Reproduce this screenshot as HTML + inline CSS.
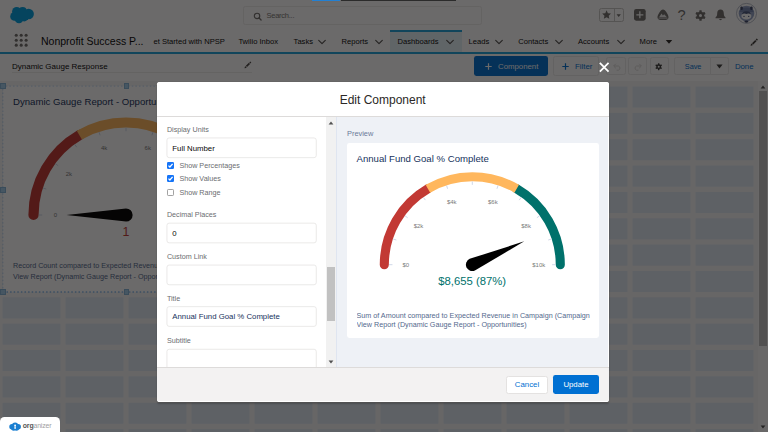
<!DOCTYPE html>
<html lang="en">
<head>
<meta charset="utf-8">
<title>Edit Component</title>
<style>
html,body{margin:0;padding:0}
body{width:768px;height:432px;overflow:hidden;position:relative;background:#fff;font-family:"Liberation Sans",sans-serif;color:#080707}
.abs{position:absolute}
svg{overflow:visible}
svg text{font-family:"Liberation Sans",sans-serif}
#page{position:absolute;left:0;top:0;width:768px;height:432px;overflow:hidden;background:#fff}
#backdrop{position:absolute;left:0;top:0;width:768px;height:432px;background:rgba(8,7,7,.6)}
.t{position:absolute;white-space:nowrap;line-height:1}
.nav{font-size:7.6px;color:#080707;top:38.4px}
.btn{position:absolute;box-sizing:border-box;border:.6px solid #ecebea;border-radius:2.4px;background:#fff}
.lbl{font-size:7.2px;color:#6b6d70;left:166.9px}
.inp{position:absolute;box-sizing:border-box;left:166.6px;width:150px;height:20.6px;border:.7px solid #eceae9;border-radius:2.4px;background:#fff}
.inp .t{left:5.2px;top:6.4px;font-size:7.8px}
.cb{position:absolute;box-sizing:border-box;left:167.2px;width:7px;height:7px;border-radius:1.2px}
.cb.on{background:#1574f7}
.cb.off{background:#fff;border:.6px solid #a2a2a2}
.hd{position:absolute;width:5.6px;height:5.6px;background:#a3cdea;border:.5px solid #86b4d8;box-sizing:border-box}
</style>
</head>
<body>
<div id="page">
  <!-- global header -->
  <svg class="abs" style="left:9px;top:5px" width="27" height="20" viewBox="0 0 27 20">
    <g fill="#00a1e0">
      <circle cx="7.7" cy="6.6" r="4.6"/><circle cx="13.6" cy="6.2" r="4.1"/><circle cx="19.6" cy="9" r="5.3"/>
      <circle cx="5.6" cy="11.4" r="4.4"/><circle cx="10" cy="13.8" r="4.4"/><circle cx="15.2" cy="12" r="4.4"/>
      <rect x="6" y="5" width="13" height="10"/>
    </g>
  </svg>
  <div class="abs" style="left:243.3px;top:5.7px;width:239px;height:19px;box-sizing:border-box;border:.6px solid #eeedec;border-radius:2.4px"></div>
  <svg class="abs" style="left:252.8px;top:11.8px" width="9.4" height="9.4" viewBox="0 0 10 10"><circle cx="4.3" cy="4.2" r="2.9" fill="none" stroke="#706e6b" stroke-width="1.2"/><path d="M6.5 6.4 L8.6 8.5" stroke="#706e6b" stroke-width="1.4" stroke-linecap="round"/></svg>
  <div class="t" style="left:266.5px;top:12px;font-size:7.5px;letter-spacing:-.25px;color:#7a7876">Search...</div>

  <!-- header right icons -->
  <div class="abs" style="left:599px;top:7.9px;width:24.8px;height:14.4px;box-sizing:border-box;border:.7px solid #c9c7c5;border-radius:2.4px"></div>
  <div class="abs" style="left:613.5px;top:7.9px;width:.7px;height:14.4px;background:#c9c7c5"></div>
  <svg class="abs" style="left:601.5px;top:10.4px" width="9.2" height="9.2" viewBox="0 0 10 10"><path d="M5 .4 L6.4 3.5 L9.8 3.9 L7.3 6.2 L8 9.6 L5 7.9 L2 9.6 L2.7 6.2 L.2 3.9 L3.6 3.5 Z" fill="#706e6b"/></svg>
  <svg class="abs" style="left:616.2px;top:14.2px" width="5.4" height="3.2" viewBox="0 0 6 4"><path d="M.3 .4 L5.7 .4 L3 3.7 Z" fill="#706e6b"/></svg>
  <svg class="abs" style="left:633.7px;top:9.2px" width="11.7" height="11.7" viewBox="0 0 12 12"><rect x="0" y="0" width="12" height="12" rx="2.2" fill="#706e6b"/><path d="M6 2.4 V9.6 M2.4 6 H9.6" stroke="#fff" stroke-width="1.3"/></svg>
  <svg class="abs" style="left:656.6px;top:9.4px" width="12" height="11.4" viewBox="0 0 12 11.4"><path d="M6 .5 C7.2 .5 8.4 1.6 9.6 3.4 C10.9 5.3 11.6 7.2 11.5 8.4 C11.4 9.9 10.2 10.9 8.6 10.9 L3.4 10.9 C1.8 10.9 .6 9.9 .5 8.4 C.4 7.2 1.1 5.3 2.4 3.4 C3.6 1.6 4.8 .5 6 .5 Z" fill="#706e6b"/><path d="M2 8.2 L4.6 4.6 L5.9 6.6 L7.2 5.2 L10 8.2 Z" fill="#fff" opacity=".85"/><path d="M1.4 9.2 H10.6" stroke="#fff" stroke-width=".7" opacity=".85"/></svg>
  <div class="t" style="left:677.6px;top:7.6px;font-size:14.6px;color:#706e6b">?</div>
  <svg class="abs" style="left:695.4px;top:9.5px" width="11" height="11" viewBox="-5.5 -5.5 11 11"><g fill="#706e6b"><circle r="3.7"/><rect x="-1.2" y="-5.2" width="2.4" height="10.4" rx=".5"/><rect x="-1.2" y="-5.2" width="2.4" height="10.4" rx=".5" transform="rotate(60)"/><rect x="-1.2" y="-5.2" width="2.4" height="10.4" rx=".5" transform="rotate(120)"/></g><circle r="1.5" fill="#fff"/></svg>
  <svg class="abs" style="left:714.6px;top:9.4px" width="11" height="12" viewBox="0 0 11 12"><path d="M5.5 .6 C3.4 .6 2.2 2.3 2.2 4.4 C2.2 6.6 1.5 7.6 .5 8.4 L.5 9.3 L10.5 9.3 L10.5 8.4 C9.5 7.6 8.8 6.6 8.8 4.4 C8.8 2.3 7.6 .6 5.5 .6 Z" fill="#706e6b"/><path d="M4 10.1 A1.6 1.6 0 0 0 7 10.1 Z" fill="#706e6b"/></svg>
  <svg class="abs" style="left:736px;top:3px" width="21" height="21" viewBox="0 0 21 21"><circle cx="10.5" cy="10.4" r="10" fill="#fff" stroke="#a3abbb" stroke-width=".8"/><circle cx="10.5" cy="10.6" r="7.8" fill="#95a4c6"/><path d="M3.6 9 Q3.4 4.6 10.5 4.4 Q17.6 4.6 17.4 9 Z" fill="#7384ad"/><rect x="4.4" y="3.4" width="2.4" height="3.6" rx="1.1" fill="#3c4866"/><rect x="14.2" y="3.4" width="2.4" height="3.6" rx="1.1" fill="#3c4866"/><ellipse cx="10.4" cy="12.9" rx="5" ry="3.6" fill="#fff"/><path d="M5.8 11.6 Q6.4 8.2 10.4 8.2 Q14.4 8.2 15 11.6 Q12.6 9.6 10.4 11 Q8.2 9.6 5.8 11.6 Z" fill="#4a587d"/><circle cx="8" cy="13.4" r=".7" fill="#4a587d"/><circle cx="12.7" cy="13.4" r=".7" fill="#4a587d"/><ellipse cx="10.4" cy="18.6" rx="2" ry="1.1" fill="#3c4866"/></svg>
  <!-- nav bar -->
  <div class="abs" style="left:390px;top:30px;width:72px;height:21.8px;background:#e4f2f8"></div>
  <div class="abs" style="left:390px;top:30px;width:72px;height:1.8px;background:#1ea4d9"></div>
  <div class="abs" style="left:0;top:52.1px;width:768px;height:2.3px;background:#1ea4d9"></div>
  <svg class="abs" style="left:14.2px;top:33.2px" width="14.4" height="14.4" viewBox="0 0 14 14" fill="#706e6b">
    <circle cx="2.2" cy="2.2" r="1.5"/><circle cx="7" cy="2.2" r="1.5"/><circle cx="11.8" cy="2.2" r="1.5"/>
    <circle cx="2.2" cy="7" r="1.5"/><circle cx="7" cy="7" r="1.5"/><circle cx="11.8" cy="7" r="1.5"/>
    <circle cx="2.2" cy="11.8" r="1.5"/><circle cx="7" cy="11.8" r="1.5"/><circle cx="11.8" cy="11.8" r="1.5"/>
  </svg>
  <div class="t" style="left:41px;top:35.8px;font-size:10.5px;color:#080707">Nonprofit Success P...</div>
  <div class="t nav" style="left:153.5px">et Started with NPSP</div>
  <div class="t nav" style="left:238.4px">Twilio Inbox</div>
  <div class="t nav" style="left:293.6px">Tasks</div>
  <div class="t nav" style="left:341.5px">Reports</div>
  <div class="t nav" style="left:397.5px">Dashboards</div>
  <div class="t nav" style="left:468.6px">Leads</div>
  <div class="t nav" style="left:518.3px">Contacts</div>
  <div class="t nav" style="left:578px">Accounts</div>
  <div class="t nav" style="left:639.6px">More</div>
  <svg class="abs" style="left:318px;top:39.4px" width="8" height="6" viewBox="0 0 8 6"><path d="M.7 1.3 L4 4.6 L7.3 1.3" fill="none" stroke="#514f4d" stroke-width="1.15" stroke-linecap="round" stroke-linejoin="round"/></svg><svg class="abs" style="left:375px;top:39.4px" width="8" height="6" viewBox="0 0 8 6"><path d="M.7 1.3 L4 4.6 L7.3 1.3" fill="none" stroke="#514f4d" stroke-width="1.15" stroke-linecap="round" stroke-linejoin="round"/></svg><svg class="abs" style="left:446px;top:39.4px" width="8" height="6" viewBox="0 0 8 6"><path d="M.7 1.3 L4 4.6 L7.3 1.3" fill="none" stroke="#514f4d" stroke-width="1.15" stroke-linecap="round" stroke-linejoin="round"/></svg><svg class="abs" style="left:495px;top:39.4px" width="8" height="6" viewBox="0 0 8 6"><path d="M.7 1.3 L4 4.6 L7.3 1.3" fill="none" stroke="#514f4d" stroke-width="1.15" stroke-linecap="round" stroke-linejoin="round"/></svg><svg class="abs" style="left:555px;top:39.4px" width="8" height="6" viewBox="0 0 8 6"><path d="M.7 1.3 L4 4.6 L7.3 1.3" fill="none" stroke="#514f4d" stroke-width="1.15" stroke-linecap="round" stroke-linejoin="round"/></svg><svg class="abs" style="left:617px;top:39.4px" width="8" height="6" viewBox="0 0 8 6"><path d="M.7 1.3 L4 4.6 L7.3 1.3" fill="none" stroke="#514f4d" stroke-width="1.15" stroke-linecap="round" stroke-linejoin="round"/></svg>
  <svg class="abs" style="left:665.4px;top:38.9px" width="8" height="6" viewBox="0 0 8 6"><path d="M0.8 1 L7.2 1 L4 4.8 Z" fill="#2b2826"/></svg>
  <svg class="abs" style="left:749.7px;top:37.8px" width="8.4" height="8.4" viewBox="0 0 8 8"><path d="M.5 7.5 L.9 5.9 L1.5 5.3 L2.7 6.5 L2.1 7.1 Z M1.9 4.9 L5 1.8 L6.2 3 L3.1 6.1 Z M5.4 1.4 L6.1 .7 Q6.4 .4 6.7 .7 L7.3 1.3 Q7.6 1.6 7.3 1.9 L6.6 2.6 Z" fill="#45423f"/></svg>

  <!-- dashboard header -->
  <div class="t" style="left:12px;top:62.9px;font-size:8px;color:#080707">Dynamic Gauge Response</div>
  <div class="abs" style="left:12px;top:72.4px;width:240px;height:.6px;background:#eeedec"></div>
  <svg class="abs" style="left:244px;top:61.2px" width="7.8" height="7.8" viewBox="0 0 8 8"><path d="M.5 7.5 L.9 5.9 L1.5 5.3 L2.7 6.5 L2.1 7.1 Z M1.9 4.9 L5 1.8 L6.2 3 L3.1 6.1 Z M5.4 1.4 L6.1 .7 Q6.4 .4 6.7 .7 L7.3 1.3 Q7.6 1.6 7.3 1.9 L6.6 2.6 Z" fill="#4d4a47"/></svg>

  <div class="abs" style="left:474px;top:56.4px;width:74.2px;height:19.3px;background:#0070d2;border-radius:2.4px"></div>
  <svg class="abs" style="left:484.5px;top:62.5px" width="7" height="7" viewBox="0 0 7 7"><path d="M3.5 .3 V6.7 M.3 3.5 H6.7" stroke="#fff" stroke-width="1.2"/></svg>
  <div class="t" style="left:498px;top:62.8px;font-size:7.8px;color:#fff">Component</div>
  <div class="btn" style="left:553.4px;top:56.4px;width:46px;height:19.3px"></div>
  <svg class="abs" style="left:561.5px;top:62.5px" width="7" height="7" viewBox="0 0 7 7"><path d="M3.5 .3 V6.7 M.3 3.5 H6.7" stroke="#0070d2" stroke-width="1.2"/></svg>
  <div class="t" style="left:575px;top:62.8px;font-size:7.8px;color:#0070d2">Filter</div>
  <div class="btn" style="left:606px;top:56.8px;width:19.5px;height:18.6px"></div>
  <div class="btn" style="left:628.3px;top:56.8px;width:18.5px;height:18.6px"></div>
  <div class="btn" style="left:649.8px;top:56.8px;width:19px;height:18.6px"></div>
  <svg class="abs" style="left:612.5px;top:62.5px" width="9" height="8" viewBox="0 0 9 8"><path d="M1 3 H5.4 A2.2 2.2 0 0 1 5.4 7.2 H3.6" fill="none" stroke="#dddbda" stroke-width="1"/><path d="M2.8 .8 L.6 3 L2.8 5.2" fill="none" stroke="#dddbda" stroke-width="1"/></svg>
  <svg class="abs" style="left:633px;top:62.5px" width="9" height="8" viewBox="0 0 9 8"><path d="M8 3 H3.6 A2.2 2.2 0 0 0 3.6 7.2 H5.4" fill="none" stroke="#dddbda" stroke-width="1"/><path d="M6.2 .8 L8.4 3 L6.2 5.2" fill="none" stroke="#dddbda" stroke-width="1"/></svg>
  <svg class="abs" style="left:655.2px;top:62.6px" width="7.4" height="7.4" viewBox="-5.5 -5.5 11 11"><g fill="#3e3e3c"><circle r="3.6"/><rect x="-1.1" y="-5.2" width="2.2" height="10.4" rx=".5"/><rect x="-1.1" y="-5.2" width="2.2" height="10.4" rx=".5" transform="rotate(60)"/><rect x="-1.1" y="-5.2" width="2.2" height="10.4" rx=".5" transform="rotate(120)"/></g><circle r="1.5" fill="#fff"/></svg>
  <div class="btn" style="left:674.2px;top:56.8px;width:36.8px;height:18.6px;border-radius:2.4px 0 0 2.4px"></div>
  <div class="btn" style="left:710.4px;top:56.8px;width:18.8px;height:18.6px;border-radius:0 2.4px 2.4px 0"></div>
  <div class="t" style="left:684.8px;top:63.4px;font-size:7.3px;color:#0070d2">Save</div>
  <svg class="abs" style="left:716px;top:63.6px" width="7" height="5" viewBox="0 0 7 5"><path d="M.4 .6 L6.6 .6 L3.5 4.4 Z" fill="#3e3e3c"/></svg>
  <div class="t" style="left:734.9px;top:63.3px;font-size:7.8px;color:#0070d2">Done</div>

  <!-- canvas -->
  <svg class="abs" style="left:0;top:81px" width="768" height="351" viewBox="0 81 768 351"><rect x="0" y="81" width="768" height="351" fill="#f6f6f6"/><rect x="2.60" y="86.50" width="57.8" height="21.1" fill="#dfe9f3"/><rect x="65.60" y="86.50" width="57.8" height="21.1" fill="#dfe9f3"/><rect x="128.60" y="86.50" width="57.8" height="21.1" fill="#dfe9f3"/><rect x="191.60" y="86.50" width="57.8" height="21.1" fill="#dfe9f3"/><rect x="254.60" y="86.50" width="57.8" height="21.1" fill="#dfe9f3"/><rect x="317.60" y="86.50" width="57.8" height="21.1" fill="#dfe9f3"/><rect x="380.60" y="86.50" width="57.8" height="21.1" fill="#dfe9f3"/><rect x="443.60" y="86.50" width="57.8" height="21.1" fill="#dfe9f3"/><rect x="506.60" y="86.50" width="57.8" height="21.1" fill="#dfe9f3"/><rect x="569.60" y="86.50" width="57.8" height="21.1" fill="#dfe9f3"/><rect x="632.60" y="86.50" width="57.8" height="21.1" fill="#dfe9f3"/><rect x="695.60" y="86.50" width="57.8" height="21.1" fill="#dfe9f3"/><rect x="2.60" y="112.85" width="57.8" height="21.1" fill="#dfe9f3"/><rect x="65.60" y="112.85" width="57.8" height="21.1" fill="#dfe9f3"/><rect x="128.60" y="112.85" width="57.8" height="21.1" fill="#dfe9f3"/><rect x="191.60" y="112.85" width="57.8" height="21.1" fill="#dfe9f3"/><rect x="254.60" y="112.85" width="57.8" height="21.1" fill="#dfe9f3"/><rect x="317.60" y="112.85" width="57.8" height="21.1" fill="#dfe9f3"/><rect x="380.60" y="112.85" width="57.8" height="21.1" fill="#dfe9f3"/><rect x="443.60" y="112.85" width="57.8" height="21.1" fill="#dfe9f3"/><rect x="506.60" y="112.85" width="57.8" height="21.1" fill="#dfe9f3"/><rect x="569.60" y="112.85" width="57.8" height="21.1" fill="#dfe9f3"/><rect x="632.60" y="112.85" width="57.8" height="21.1" fill="#dfe9f3"/><rect x="695.60" y="112.85" width="57.8" height="21.1" fill="#dfe9f3"/><rect x="2.60" y="139.20" width="57.8" height="21.1" fill="#dfe9f3"/><rect x="65.60" y="139.20" width="57.8" height="21.1" fill="#dfe9f3"/><rect x="128.60" y="139.20" width="57.8" height="21.1" fill="#dfe9f3"/><rect x="191.60" y="139.20" width="57.8" height="21.1" fill="#dfe9f3"/><rect x="254.60" y="139.20" width="57.8" height="21.1" fill="#dfe9f3"/><rect x="317.60" y="139.20" width="57.8" height="21.1" fill="#dfe9f3"/><rect x="380.60" y="139.20" width="57.8" height="21.1" fill="#dfe9f3"/><rect x="443.60" y="139.20" width="57.8" height="21.1" fill="#dfe9f3"/><rect x="506.60" y="139.20" width="57.8" height="21.1" fill="#dfe9f3"/><rect x="569.60" y="139.20" width="57.8" height="21.1" fill="#dfe9f3"/><rect x="632.60" y="139.20" width="57.8" height="21.1" fill="#dfe9f3"/><rect x="695.60" y="139.20" width="57.8" height="21.1" fill="#dfe9f3"/><rect x="2.60" y="165.55" width="57.8" height="21.1" fill="#dfe9f3"/><rect x="65.60" y="165.55" width="57.8" height="21.1" fill="#dfe9f3"/><rect x="128.60" y="165.55" width="57.8" height="21.1" fill="#dfe9f3"/><rect x="191.60" y="165.55" width="57.8" height="21.1" fill="#dfe9f3"/><rect x="254.60" y="165.55" width="57.8" height="21.1" fill="#dfe9f3"/><rect x="317.60" y="165.55" width="57.8" height="21.1" fill="#dfe9f3"/><rect x="380.60" y="165.55" width="57.8" height="21.1" fill="#dfe9f3"/><rect x="443.60" y="165.55" width="57.8" height="21.1" fill="#dfe9f3"/><rect x="506.60" y="165.55" width="57.8" height="21.1" fill="#dfe9f3"/><rect x="569.60" y="165.55" width="57.8" height="21.1" fill="#dfe9f3"/><rect x="632.60" y="165.55" width="57.8" height="21.1" fill="#dfe9f3"/><rect x="695.60" y="165.55" width="57.8" height="21.1" fill="#dfe9f3"/><rect x="2.60" y="191.90" width="57.8" height="21.1" fill="#dfe9f3"/><rect x="65.60" y="191.90" width="57.8" height="21.1" fill="#dfe9f3"/><rect x="128.60" y="191.90" width="57.8" height="21.1" fill="#dfe9f3"/><rect x="191.60" y="191.90" width="57.8" height="21.1" fill="#dfe9f3"/><rect x="254.60" y="191.90" width="57.8" height="21.1" fill="#dfe9f3"/><rect x="317.60" y="191.90" width="57.8" height="21.1" fill="#dfe9f3"/><rect x="380.60" y="191.90" width="57.8" height="21.1" fill="#dfe9f3"/><rect x="443.60" y="191.90" width="57.8" height="21.1" fill="#dfe9f3"/><rect x="506.60" y="191.90" width="57.8" height="21.1" fill="#dfe9f3"/><rect x="569.60" y="191.90" width="57.8" height="21.1" fill="#dfe9f3"/><rect x="632.60" y="191.90" width="57.8" height="21.1" fill="#dfe9f3"/><rect x="695.60" y="191.90" width="57.8" height="21.1" fill="#dfe9f3"/><rect x="2.60" y="218.25" width="57.8" height="21.1" fill="#dfe9f3"/><rect x="65.60" y="218.25" width="57.8" height="21.1" fill="#dfe9f3"/><rect x="128.60" y="218.25" width="57.8" height="21.1" fill="#dfe9f3"/><rect x="191.60" y="218.25" width="57.8" height="21.1" fill="#dfe9f3"/><rect x="254.60" y="218.25" width="57.8" height="21.1" fill="#dfe9f3"/><rect x="317.60" y="218.25" width="57.8" height="21.1" fill="#dfe9f3"/><rect x="380.60" y="218.25" width="57.8" height="21.1" fill="#dfe9f3"/><rect x="443.60" y="218.25" width="57.8" height="21.1" fill="#dfe9f3"/><rect x="506.60" y="218.25" width="57.8" height="21.1" fill="#dfe9f3"/><rect x="569.60" y="218.25" width="57.8" height="21.1" fill="#dfe9f3"/><rect x="632.60" y="218.25" width="57.8" height="21.1" fill="#dfe9f3"/><rect x="695.60" y="218.25" width="57.8" height="21.1" fill="#dfe9f3"/><rect x="2.60" y="244.60" width="57.8" height="21.1" fill="#dfe9f3"/><rect x="65.60" y="244.60" width="57.8" height="21.1" fill="#dfe9f3"/><rect x="128.60" y="244.60" width="57.8" height="21.1" fill="#dfe9f3"/><rect x="191.60" y="244.60" width="57.8" height="21.1" fill="#dfe9f3"/><rect x="254.60" y="244.60" width="57.8" height="21.1" fill="#dfe9f3"/><rect x="317.60" y="244.60" width="57.8" height="21.1" fill="#dfe9f3"/><rect x="380.60" y="244.60" width="57.8" height="21.1" fill="#dfe9f3"/><rect x="443.60" y="244.60" width="57.8" height="21.1" fill="#dfe9f3"/><rect x="506.60" y="244.60" width="57.8" height="21.1" fill="#dfe9f3"/><rect x="569.60" y="244.60" width="57.8" height="21.1" fill="#dfe9f3"/><rect x="632.60" y="244.60" width="57.8" height="21.1" fill="#dfe9f3"/><rect x="695.60" y="244.60" width="57.8" height="21.1" fill="#dfe9f3"/><rect x="2.60" y="270.95" width="57.8" height="21.1" fill="#dfe9f3"/><rect x="65.60" y="270.95" width="57.8" height="21.1" fill="#dfe9f3"/><rect x="128.60" y="270.95" width="57.8" height="21.1" fill="#dfe9f3"/><rect x="191.60" y="270.95" width="57.8" height="21.1" fill="#dfe9f3"/><rect x="254.60" y="270.95" width="57.8" height="21.1" fill="#dfe9f3"/><rect x="317.60" y="270.95" width="57.8" height="21.1" fill="#dfe9f3"/><rect x="380.60" y="270.95" width="57.8" height="21.1" fill="#dfe9f3"/><rect x="443.60" y="270.95" width="57.8" height="21.1" fill="#dfe9f3"/><rect x="506.60" y="270.95" width="57.8" height="21.1" fill="#dfe9f3"/><rect x="569.60" y="270.95" width="57.8" height="21.1" fill="#dfe9f3"/><rect x="632.60" y="270.95" width="57.8" height="21.1" fill="#dfe9f3"/><rect x="695.60" y="270.95" width="57.8" height="21.1" fill="#dfe9f3"/><rect x="2.60" y="297.30" width="57.8" height="21.1" fill="#dfe9f3"/><rect x="65.60" y="297.30" width="57.8" height="21.1" fill="#dfe9f3"/><rect x="128.60" y="297.30" width="57.8" height="21.1" fill="#dfe9f3"/><rect x="191.60" y="297.30" width="57.8" height="21.1" fill="#dfe9f3"/><rect x="254.60" y="297.30" width="57.8" height="21.1" fill="#dfe9f3"/><rect x="317.60" y="297.30" width="57.8" height="21.1" fill="#dfe9f3"/><rect x="380.60" y="297.30" width="57.8" height="21.1" fill="#dfe9f3"/><rect x="443.60" y="297.30" width="57.8" height="21.1" fill="#dfe9f3"/><rect x="506.60" y="297.30" width="57.8" height="21.1" fill="#dfe9f3"/><rect x="569.60" y="297.30" width="57.8" height="21.1" fill="#dfe9f3"/><rect x="632.60" y="297.30" width="57.8" height="21.1" fill="#dfe9f3"/><rect x="695.60" y="297.30" width="57.8" height="21.1" fill="#dfe9f3"/><rect x="2.60" y="323.65" width="57.8" height="21.1" fill="#dfe9f3"/><rect x="65.60" y="323.65" width="57.8" height="21.1" fill="#dfe9f3"/><rect x="128.60" y="323.65" width="57.8" height="21.1" fill="#dfe9f3"/><rect x="191.60" y="323.65" width="57.8" height="21.1" fill="#dfe9f3"/><rect x="254.60" y="323.65" width="57.8" height="21.1" fill="#dfe9f3"/><rect x="317.60" y="323.65" width="57.8" height="21.1" fill="#dfe9f3"/><rect x="380.60" y="323.65" width="57.8" height="21.1" fill="#dfe9f3"/><rect x="443.60" y="323.65" width="57.8" height="21.1" fill="#dfe9f3"/><rect x="506.60" y="323.65" width="57.8" height="21.1" fill="#dfe9f3"/><rect x="569.60" y="323.65" width="57.8" height="21.1" fill="#dfe9f3"/><rect x="632.60" y="323.65" width="57.8" height="21.1" fill="#dfe9f3"/><rect x="695.60" y="323.65" width="57.8" height="21.1" fill="#dfe9f3"/><rect x="2.60" y="350.00" width="57.8" height="21.1" fill="#dfe9f3"/><rect x="65.60" y="350.00" width="57.8" height="21.1" fill="#dfe9f3"/><rect x="128.60" y="350.00" width="57.8" height="21.1" fill="#dfe9f3"/><rect x="191.60" y="350.00" width="57.8" height="21.1" fill="#dfe9f3"/><rect x="254.60" y="350.00" width="57.8" height="21.1" fill="#dfe9f3"/><rect x="317.60" y="350.00" width="57.8" height="21.1" fill="#dfe9f3"/><rect x="380.60" y="350.00" width="57.8" height="21.1" fill="#dfe9f3"/><rect x="443.60" y="350.00" width="57.8" height="21.1" fill="#dfe9f3"/><rect x="506.60" y="350.00" width="57.8" height="21.1" fill="#dfe9f3"/><rect x="569.60" y="350.00" width="57.8" height="21.1" fill="#dfe9f3"/><rect x="632.60" y="350.00" width="57.8" height="21.1" fill="#dfe9f3"/><rect x="695.60" y="350.00" width="57.8" height="21.1" fill="#dfe9f3"/><rect x="2.60" y="376.35" width="57.8" height="21.1" fill="#dfe9f3"/><rect x="65.60" y="376.35" width="57.8" height="21.1" fill="#dfe9f3"/><rect x="128.60" y="376.35" width="57.8" height="21.1" fill="#dfe9f3"/><rect x="191.60" y="376.35" width="57.8" height="21.1" fill="#dfe9f3"/><rect x="254.60" y="376.35" width="57.8" height="21.1" fill="#dfe9f3"/><rect x="317.60" y="376.35" width="57.8" height="21.1" fill="#dfe9f3"/><rect x="380.60" y="376.35" width="57.8" height="21.1" fill="#dfe9f3"/><rect x="443.60" y="376.35" width="57.8" height="21.1" fill="#dfe9f3"/><rect x="506.60" y="376.35" width="57.8" height="21.1" fill="#dfe9f3"/><rect x="569.60" y="376.35" width="57.8" height="21.1" fill="#dfe9f3"/><rect x="632.60" y="376.35" width="57.8" height="21.1" fill="#dfe9f3"/><rect x="695.60" y="376.35" width="57.8" height="21.1" fill="#dfe9f3"/><rect x="2.60" y="402.70" width="57.8" height="21.1" fill="#dfe9f3"/><rect x="65.60" y="402.70" width="57.8" height="21.1" fill="#dfe9f3"/><rect x="128.60" y="402.70" width="57.8" height="21.1" fill="#dfe9f3"/><rect x="191.60" y="402.70" width="57.8" height="21.1" fill="#dfe9f3"/><rect x="254.60" y="402.70" width="57.8" height="21.1" fill="#dfe9f3"/><rect x="317.60" y="402.70" width="57.8" height="21.1" fill="#dfe9f3"/><rect x="380.60" y="402.70" width="57.8" height="21.1" fill="#dfe9f3"/><rect x="443.60" y="402.70" width="57.8" height="21.1" fill="#dfe9f3"/><rect x="506.60" y="402.70" width="57.8" height="21.1" fill="#dfe9f3"/><rect x="569.60" y="402.70" width="57.8" height="21.1" fill="#dfe9f3"/><rect x="632.60" y="402.70" width="57.8" height="21.1" fill="#dfe9f3"/><rect x="695.60" y="402.70" width="57.8" height="21.1" fill="#dfe9f3"/><rect x="2.60" y="429.05" width="57.8" height="21.1" fill="#dfe9f3"/><rect x="65.60" y="429.05" width="57.8" height="21.1" fill="#dfe9f3"/><rect x="128.60" y="429.05" width="57.8" height="21.1" fill="#dfe9f3"/><rect x="191.60" y="429.05" width="57.8" height="21.1" fill="#dfe9f3"/><rect x="254.60" y="429.05" width="57.8" height="21.1" fill="#dfe9f3"/><rect x="317.60" y="429.05" width="57.8" height="21.1" fill="#dfe9f3"/><rect x="380.60" y="429.05" width="57.8" height="21.1" fill="#dfe9f3"/><rect x="443.60" y="429.05" width="57.8" height="21.1" fill="#dfe9f3"/><rect x="506.60" y="429.05" width="57.8" height="21.1" fill="#dfe9f3"/><rect x="569.60" y="429.05" width="57.8" height="21.1" fill="#dfe9f3"/><rect x="632.60" y="429.05" width="57.8" height="21.1" fill="#dfe9f3"/><rect x="695.60" y="429.05" width="57.8" height="21.1" fill="#dfe9f3"/></svg>
  <div class="abs" style="left:758.2px;top:81.2px;width:10px;height:351px;background:#fbfbfb"></div>
  <div class="abs" style="left:759px;top:91px;width:7.9px;height:254.5px;background:#c1c1c1"></div>
  <svg class="abs" style="left:760px;top:84.8px" width="6" height="4" viewBox="0 0 6 4"><path d="M.6 3.5 L5.4 3.5 L3 .6 Z" fill="#505050"/></svg>
  <svg class="abs" style="left:760px;top:424.6px" width="6" height="4" viewBox="0 0 6 4"><path d="M.6 .5 L5.4 .5 L3 3.4 Z" fill="#505050"/></svg>

  <!-- widget -->
  <div class="abs" style="left:3px;top:86px;width:248px;height:206px;background:#fff"></div>
  <svg class="abs" style="left:0;top:0" width="768" height="432" viewBox="0 0 768 432"><g fill="none" stroke="#4f9be6" stroke-dasharray="1.5 2.1"><path d="M2.9 292 V86.1 H251.1" stroke-width=".8" opacity=".45"/><path d="M2.9 292 H251.1" stroke-width="1"/></g></svg>
  <div class="t" style="left:13px;top:96.6px;font-size:9.6px;color:#16325c">Dynamic Gauge Report - Opportunities</div>
  <svg class="abs" style="left:0;top:0" width="768" height="432" viewBox="0 0 768 432">
  <path d="M33.50 215.00 A92.5 92.5 0 0 1 79.75 134.89" fill="none" stroke="#c23934" stroke-width="10.2" stroke-linecap="round"/>
<path d="M172.25 134.89 A92.5 92.5 0 0 1 218.50 215.00" fill="none" stroke="#00716b" stroke-width="10.2" stroke-linecap="round"/>
<path d="M79.33 135.14 A92.5 92.5 0 0 1 172.67 135.14" fill="none" stroke="#ffb75d" stroke-width="10.2" stroke-linecap="butt"/>
<path d="M38.80 215.00 L42.20 215.00" stroke="#c3cde2" stroke-width=".8"/>
<path d="M43.07 188.05 L46.30 189.10" stroke="#c3cde2" stroke-width=".8"/>
<path d="M55.45 163.75 L58.20 165.74" stroke="#c3cde2" stroke-width=".8"/>
<path d="M74.75 144.45 L76.74 147.20" stroke="#c3cde2" stroke-width=".8"/>
<path d="M99.05 132.07 L100.10 135.30" stroke="#c3cde2" stroke-width=".8"/>
<path d="M126.00 127.80 L126.00 131.20" stroke="#c3cde2" stroke-width=".8"/>
<path d="M152.95 132.07 L151.90 135.30" stroke="#c3cde2" stroke-width=".8"/>
<path d="M177.25 144.45 L175.26 147.20" stroke="#c3cde2" stroke-width=".8"/>
<path d="M196.55 163.75 L193.80 165.74" stroke="#c3cde2" stroke-width=".8"/>
<path d="M208.93 188.05 L205.70 189.10" stroke="#c3cde2" stroke-width=".8"/>
<path d="M213.20 215.00 L209.80 215.00" stroke="#c3cde2" stroke-width=".8"/>
<text x="55.50" y="217.16" font-size="6" fill="#7a7a7a" text-anchor="middle">0</text>
<text x="68.96" y="175.72" font-size="6" fill="#7a7a7a" text-anchor="middle">2k</text>
<text x="104.21" y="150.11" font-size="6" fill="#7a7a7a" text-anchor="middle">4k</text>
<text x="147.79" y="150.11" font-size="6" fill="#7a7a7a" text-anchor="middle">6k</text>
<text x="183.04" y="175.72" font-size="6" fill="#7a7a7a" text-anchor="middle">8k</text>
<text x="196.50" y="217.16" font-size="6" fill="#7a7a7a" text-anchor="middle">10k</text>
<path d="M66.50 215.00 L126.00 221.60 A6.6 6.6 0 1 0 126.00 208.40 Z" fill="#000"/>
  <text x="126" y="235.6" font-size="12.4" fill="#c23934" text-anchor="middle">1</text>
  </svg>
  <div class="t" style="left:13px;top:262.4px;font-size:7.2px;color:#54698d">Record Count compared to Expected Revenue in Campaign</div>
  <div class="t" style="left:13px;top:273.2px;font-size:7.2px;color:#54698d">View Report (Dynamic Gauge Report - Opportunities)</div>
  <div class="hd" style="left:0;top:83.2px"></div>
  <div class="hd" style="left:123.7px;top:83.2px"></div>
  <div class="hd" style="left:0;top:187px"></div>
  <div class="hd" style="left:0;top:289.2px"></div>
  <div class="hd" style="left:123.7px;top:289.2px"></div>

</div>
<div id="backdrop"></div>
<!-- close X -->
<svg class="abs" style="left:598.5px;top:62.3px" width="10.4" height="10.4" viewBox="0 0 10 10"><path d="M.8 .8 L9.2 9.2 M9.2 .8 L.8 9.2" stroke="#fff" stroke-width="1.7" stroke-linecap="butt"/></svg>
<!-- modal -->
<div id="modal" class="abs" style="left:157px;top:81.8px;width:451.5px;height:319.8px;background:#fff;border-radius:2.6px;box-shadow:0 1.2px 1.8px rgba(0,0,0,.2)">
  <div class="abs" style="left:0;top:0;width:451.5px;height:34.3px;background:#fff;border-bottom:1.3px solid #dddbda;border-radius:2.6px 2.6px 0 0"></div>
  <div class="abs" style="left:179.4px;top:35.6px;width:272.1px;height:250px;background:#eef1f6"></div>
  <div class="abs" style="left:179.3px;top:35.6px;width:.9px;height:250px;background:#dfe5f0"></div>
  <div class="abs" style="left:169.4px;top:35.6px;width:10px;height:250px;background:#f1f1f1"></div>
  <div class="abs" style="left:170.2px;top:185.6px;width:7.9px;height:54px;background:#c1c1c1"></div>
  <div class="abs" style="left:190px;top:61.6px;width:251.5px;height:194.8px;background:#fff;border-radius:2.4px"></div>
  <div class="abs" style="left:0;top:285.2px;width:451.5px;height:33.4px;background:#f3f2f2;border-top:1.2px solid #dddbda;border-radius:0 0 2.6px 2.6px"></div>
</div>
<svg class="abs" style="left:328.2px;top:121px" width="6" height="4" viewBox="0 0 6 4"><path d="M.6 3.5 L5.4 3.5 L3 .6 Z" fill="#505050"/></svg>
<svg class="abs" style="left:328.2px;top:360px" width="6" height="4" viewBox="0 0 6 4"><path d="M.6 .5 L5.4 .5 L3 3.4 Z" fill="#505050"/></svg>
<div class="t" style="left:157px;width:451.4px;text-align:center;top:93.6px;font-size:12px;color:#2b2826">Edit Component</div>

<!-- left form -->
<svg class="abs" style="left:0;top:0" width="768" height="432" viewBox="0 0 768 432"><g fill="#fff" stroke="#e1dfde" stroke-width=".7">
<rect x="166.95" y="137.95" width="149.3" height="19.7" rx="2.2"/>
<rect x="166.95" y="223.15" width="149.3" height="19.7" rx="2.2"/>
<rect x="166.95" y="265.05" width="149.3" height="19.7" rx="2.2"/>
<rect x="166.95" y="306.65" width="149.3" height="19.7" rx="2.2"/>
<path d="M166.95 367 V351.45 Q166.95 349.25 169.15 349.25 H314.05 Q316.25 349.25 316.25 351.45 V367"/>
</g></svg>
<div class="t" style="left:172.3px;top:144.7px;font-size:7.8px;color:#080707">Full Number</div>
<div class="t" style="left:172.3px;top:229.9px;font-size:7.8px;color:#080707">0</div>
<div class="t" style="left:172.3px;top:313.4px;font-size:7.8px;color:#16325c">Annual Fund Goal % Complete</div>
<div class="t lbl" style="top:125.6px">Display Units</div>
<div class="cb on" style="top:161.6px"></div>
<div class="cb on" style="top:175.2px"></div>
<div class="cb off" style="top:189.1px"></div>
<svg class="abs" style="left:167.2px;top:161.6px" width="7" height="7" viewBox="0 0 7 7"><path d="M1.5 3.6 L2.9 5 L5.6 1.9" fill="none" stroke="#fff" stroke-width="1.3"/></svg>
<svg class="abs" style="left:167.2px;top:175.2px" width="7" height="7" viewBox="0 0 7 7"><path d="M1.5 3.6 L2.9 5 L5.6 1.9" fill="none" stroke="#fff" stroke-width="1.3"/></svg>
<div class="t lbl" style="left:179.4px;top:161.6px">Show Percentages</div>
<div class="t lbl" style="left:179.4px;top:175.4px">Show Values</div>
<div class="t lbl" style="left:179.4px;top:189.4px">Show Range</div>
<div class="t lbl" style="top:211px">Decimal Places</div>
<div class="t lbl" style="top:252.6px">Custom Link</div>
<div class="t lbl" style="top:295px">Title</div>
<div class="t lbl" style="top:336.8px">Subtitle</div>

<!-- right preview -->
<div class="t" style="left:347px;top:129.6px;font-size:7.4px;color:#6b7a99">Preview</div>
<div class="t" style="left:356.5px;top:154.4px;font-size:9.6px;color:#16325c">Annual Fund Goal % Complete</div>
<svg class="abs" style="left:0;top:0" width="768" height="432" viewBox="0 0 768 432">
<path d="M384.30 264.70 A88 88 0 0 1 428.30 188.49" fill="none" stroke="#c23934" stroke-width="9.1" stroke-linecap="round"/>
<path d="M516.30 188.49 A88 88 0 0 1 560.30 264.70" fill="none" stroke="#00716b" stroke-width="9.1" stroke-linecap="round"/>
<path d="M427.90 188.72 A88 88 0 0 1 516.70 188.72" fill="none" stroke="#ffb75d" stroke-width="9.1" stroke-linecap="butt"/>
<path d="M389.05 264.70 L392.45 264.70" stroke="#c3cde2" stroke-width=".8"/>
<path d="M393.12 238.97 L396.36 240.02" stroke="#c3cde2" stroke-width=".8"/>
<path d="M404.95 215.77 L407.70 217.77" stroke="#c3cde2" stroke-width=".8"/>
<path d="M423.37 197.35 L425.37 200.10" stroke="#c3cde2" stroke-width=".8"/>
<path d="M446.57 185.52 L447.62 188.76" stroke="#c3cde2" stroke-width=".8"/>
<path d="M472.30 181.45 L472.30 184.85" stroke="#c3cde2" stroke-width=".8"/>
<path d="M498.03 185.52 L496.98 188.76" stroke="#c3cde2" stroke-width=".8"/>
<path d="M521.23 197.35 L519.23 200.10" stroke="#c3cde2" stroke-width=".8"/>
<path d="M539.65 215.77 L536.90 217.77" stroke="#c3cde2" stroke-width=".8"/>
<path d="M551.48 238.97 L548.24 240.02" stroke="#c3cde2" stroke-width=".8"/>
<path d="M555.55 264.70 L552.15 264.70" stroke="#c3cde2" stroke-width=".8"/>
<text x="405.80" y="266.86" font-size="6" fill="#7a7a7a" text-anchor="middle">$0</text>
<text x="418.50" y="227.77" font-size="6" fill="#7a7a7a" text-anchor="middle">$2k</text>
<text x="451.75" y="203.61" font-size="6" fill="#7a7a7a" text-anchor="middle">$4k</text>
<text x="492.85" y="203.61" font-size="6" fill="#7a7a7a" text-anchor="middle">$6k</text>
<text x="526.10" y="227.77" font-size="6" fill="#7a7a7a" text-anchor="middle">$8k</text>
<text x="538.80" y="266.86" font-size="6" fill="#7a7a7a" text-anchor="middle">$10k</text>
<path d="M524.29 241.33 L469.68 258.86 A6.4 6.4 0 1 0 474.92 270.54 Z" fill="#000"/>
<text x="472.2" y="284.7" font-size="11.3" fill="#00716b" text-anchor="middle">$8,655 (87%)</text>
</svg>
<div class="abs" style="left:356.5px;top:310px;width:233.5px;height:20px;overflow:hidden">
<div class="t" style="left:0;top:2.4px;font-size:7.2px;color:#54698d">Sum of Amount compared to Expected Revenue in Campaign (Campaign Source)</div>
<div class="t" style="left:0;top:11.4px;font-size:7.2px;color:#54698d">View Report (Dynamic Gauge Report - Opportunities)</div>
</div>

<!-- footer buttons -->
<div class="btn" style="left:505.8px;top:375.5px;width:42.4px;height:18.8px;border-color:#e4e2e1"></div>
<div class="t" style="left:505.8px;width:42.4px;text-align:center;top:381.2px;font-size:7.8px;color:#0070d2">Cancel</div>
<div class="abs" style="left:553.2px;top:375.3px;width:45.6px;height:19.2px;background:#0070d2;border-radius:2.4px"></div>
<div class="t" style="left:553.2px;width:45.6px;text-align:center;top:381.2px;font-size:7.8px;color:#fff">Update</div>

<!-- organizer badge -->
<div class="abs" style="left:0;top:417px;width:60px;height:16px;background:#fff;border-radius:4.5px 4.5px 0 0"></div>
<svg class="abs" style="left:8.8px;top:421.6px" width="12.2" height="9.4" viewBox="0 0 13 10"><g fill="#1b7fd1"><circle cx="3.2" cy="5" r="2.9"/><circle cx="6.5" cy="3.8" r="3.3"/><circle cx="9.8" cy="5" r="2.9"/><circle cx="5" cy="6.4" r="2.8"/><circle cx="8" cy="6.4" r="2.8"/></g><circle cx="6.5" cy="3.6" r="1" fill="#fff"/><rect x="5.8" y="4.4" width="1.4" height="3" rx=".5" fill="#fff"/></svg>
<div class="t" style="left:22.8px;top:423px;font-size:6.9px;color:#555;font-weight:bold;letter-spacing:-.15px">org<span style="font-weight:normal;color:#a0a0a0">anizer</span></div>

<!-- top strip -->
<div class="abs" style="left:311.7px;top:0;width:28.8px;height:1px;background:#2380d2"></div>
<div class="abs" style="left:340.5px;top:0;width:115.4px;height:1px;background:#2b2b2b"></div>

</body>
</html>
